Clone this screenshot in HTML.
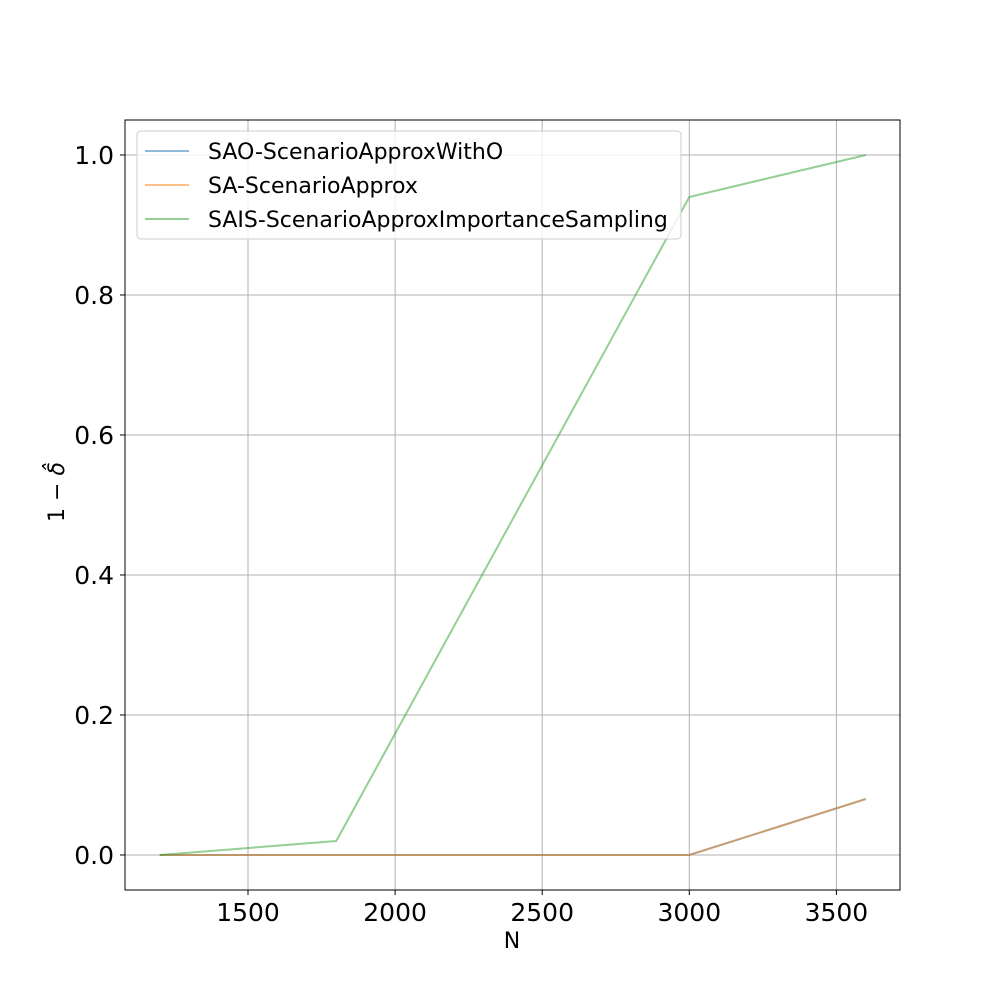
<!DOCTYPE html>
<html><head><meta charset="utf-8"><style>
body{margin:0;background:#fff;}
svg text{font-family:"DejaVu Sans","Liberation Sans",sans-serif;fill:#000;}
</style></head><body>
<svg width="1000" height="1000" id="chart" xmlns="http://www.w3.org/2000/svg">
<rect width="1000" height="1000" fill="#fff"/>
<g id="grid"></g>
<g id="lines"></g>
<rect x="125" y="120" width="775" height="770" fill="none" stroke="#000" stroke-width="1"/>
<g id="ticks"></g>
<text x="512" y="948" font-size="22" text-anchor="middle">N</text>
<text transform="translate(64,492) rotate(-90)" font-size="22" text-anchor="middle">1 − <tspan font-style="italic">δ̂</tspan></text>
<g>
<rect x="137" y="131" width="544" height="108" rx="4" fill="#fff" fill-opacity="0.8" stroke="#ccc"/>
<line x1="145" y1="151" x2="189" y2="151" stroke="#1f77b4" stroke-opacity="0.5" stroke-width="2"/>
<text x="208" y="159" font-size="22">SAO-ScenarioApproxWithO</text>
<line x1="145" y1="185" x2="189" y2="185" stroke="#ff7f0e" stroke-opacity="0.5" stroke-width="2"/>
<text x="208" y="193" font-size="22">SA-ScenarioApprox</text>
<line x1="145" y1="219" x2="189" y2="219" stroke="#2ca02c" stroke-opacity="0.5" stroke-width="2"/>
<text x="208" y="227" font-size="22">SAIS-ScenarioApproxImportanceSampling</text>
</g>
</svg>
<script>
const xs=[1200,1800,2400,3000,3600];
const sao=[0,0,0,0,0.08];
const sa=[0,0,0,0,0.08];
const sais=[0,0.02,0.48,0.94,1.0];
const xTicks=[1500,2000,2500,3000,3500];
const yTicks=[0,0.2,0.4,0.6,0.8,1.0];
const X=v=>248+(v-1500)*0.2942;
const Y=v=>855-v*700;
const NS="http://www.w3.org/2000/svg";
const grid=document.getElementById('grid'),ticks=document.getElementById('ticks'),lines=document.getElementById('lines');
function mk(t,a,p){const e=document.createElementNS(NS,t);for(const k in a)e.setAttribute(k,a[k]);p.appendChild(e);return e;}
xTicks.forEach(v=>{
const g=mk('line',{x1:X(v),x2:X(v),y1:120,y2:890,stroke:'#b0b0b0','stroke-width':1},grid);


mk('line',{x1:X(v),x2:X(v),y1:890,y2:895,stroke:'#000'},ticks);
const t=mk('text',{x:X(v),y:921,'font-size':25,'text-anchor':'middle'},ticks);t.textContent=v;


});
yTicks.forEach(v=>{
const g=mk('line',{x1:125,x2:900,y1:Y(v),y2:Y(v),stroke:'#b0b0b0','stroke-width':1},grid);


mk('line',{x1:120,x2:125,y1:Y(v),y2:Y(v),stroke:'#000'},ticks);
const t=mk('text',{x:114,y:Y(v)+9,'font-size':25,'text-anchor':'end'},ticks);t.textContent=v.toFixed(1);


});
[[sao,'#1f77b4','line-sao'],[sa,'#ff7f0e','line-sa'],[sais,'#2ca02c','line-sais']].forEach(([d,c,n])=>{
const p=mk('polyline',{points:xs.map((x,i)=>X(x)+','+Y(d[i])).join(' '),fill:'none',stroke:c,'stroke-opacity':0.5,'stroke-width':2},lines);


});
</script>
</body></html>
